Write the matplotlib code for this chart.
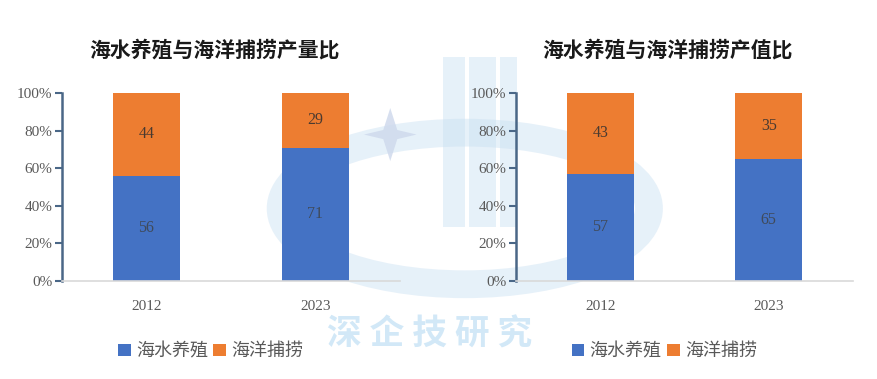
import matplotlib.pyplot as plt
from matplotlib.patches import Ellipse, Rectangle, Polygon
import numpy as np

plt.rcParams['font.family'] = ['Liberation Serif', 'Noto Sans CJK SC', 'DejaVu Sans']

years = ['2012', '2023']
series = ['海水养殖', '海洋捕捞']
qty_farm = [56, 71]
qty_catch = [44, 29]
val_farm = [57, 65]
val_catch = [43, 35]
titles = ['海水养殖与海洋捕捞产量比', '海水养殖与海洋捕捞产值比']

blue = '#4472C4'
orange = '#ED7D31'
spine_col = '#4A6787'
txt_col = '#595959'

fig = plt.figure(figsize=(8.77, 3.79), dpi=100)

# faint watermark logo, drawn under the axes
wm = '#C9E0F2'
fig.patches.append(Ellipse((0.53, 0.45), 0.42, 0.40, transform=fig.transFigure,
                           fill=False, lw=20, ec=wm, alpha=0.45, zorder=-2))
for x0, w in [(0.505, 0.025), (0.535, 0.03), (0.57, 0.02)]:
    fig.patches.append(Rectangle((x0, 0.40), w, 0.45, transform=fig.transFigure,
                                 fc=wm, ec='none', alpha=0.45, zorder=-2))
sx, sy = 0.445, 0.645
star = [(sx, sy + 0.07), (sx + 0.008, sy + 0.012), (sx + 0.03, sy), (sx + 0.008, sy - 0.012),
        (sx, sy - 0.07), (sx - 0.008, sy - 0.012), (sx - 0.03, sy), (sx - 0.008, sy + 0.012)]
fig.patches.append(Polygon(star, closed=True, transform=fig.transFigure,
                           fc='#CDD8EC', ec='none', alpha=0.8, zorder=-2))
fig.text(0.49, 0.118, '深 企 技 研 究', ha='center', va='center', fontsize=25,
         color='#B4D9F2', alpha=0.6, style='italic', fontweight='bold',
         family=['Noto Sans CJK SC'], zorder=-2)

boxes = [[62 / 877, 98 / 379, 338 / 877, 188 / 379],
         [516 / 877, 98 / 379, 337 / 877, 188 / 379]]
data = [(qty_farm, qty_catch), (val_farm, val_catch)]

for box, (farm, catch), title in zip(boxes, data, titles):
    ax = fig.add_axes(box)
    ax.patch.set_alpha(0)
    x = np.arange(len(years))
    ax.bar(x, farm, width=0.4, color=blue, label=series[0])
    ax.bar(x, catch, width=0.4, bottom=farm, color=orange, label=series[1])
    for i in range(len(years)):
        ax.text(x[i], farm[i] / 2, str(farm[i]), ha='center', va='center',
                fontsize=11.5, color='#3F4A5A')
        ax.text(x[i], farm[i] + catch[i] / 2, str(catch[i]), ha='center', va='center',
                fontsize=11.5, color='#4A3A30')
    ax.set_xlim(-0.5, 1.5)
    ax.set_ylim(0, 100)
    ax.set_yticks(range(0, 101, 20))
    ax.set_yticklabels([f'{v}%' for v in range(0, 101, 20)], fontsize=11, color=txt_col)
    ax.set_xticks(x)
    ax.set_xticklabels(years, fontsize=11, color=txt_col)
    ax.tick_params(axis='x', length=0, pad=14)
    ax.tick_params(axis='y', length=5, width=1.5, color=spine_col, direction='out', pad=2)
    for s in ['top', 'right']:
        ax.spines[s].set_visible(False)
    ax.spines['left'].set_color(spine_col)
    ax.spines['left'].set_linewidth(1.8)
    ax.spines['bottom'].set_color('#D9D9D9')
    ax.spines['bottom'].set_linewidth(1.2)
    ax.set_title(title, fontsize=15, fontweight='bold', family=['Noto Sans CJK SC'],
                 color='#1a1a1a', pad=26, x=0.45)
    ax.legend(loc='upper center', bbox_to_anchor=(0.44, -0.24), ncol=2, frameon=False,
              handlelength=0.7, handleheight=0.7, handletextpad=0.3, columnspacing=0.3,
              prop={'family': ['Noto Sans CJK SC'], 'size': 13}, labelcolor=txt_col)

fig.savefig('out.png', dpi=100)
